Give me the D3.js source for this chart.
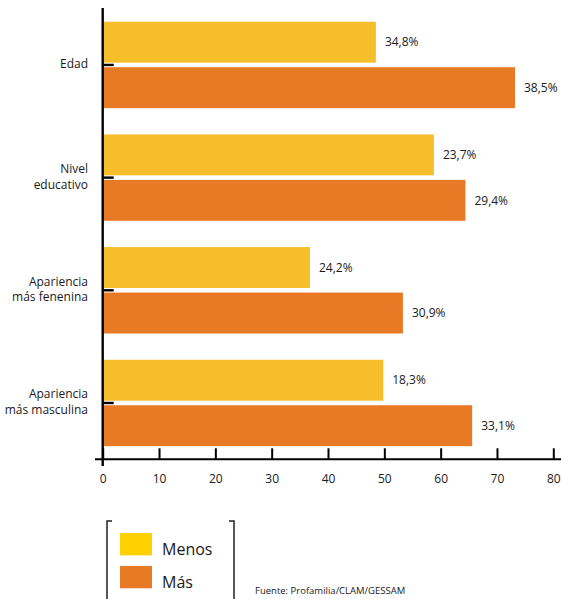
<!DOCTYPE html>
<html><head><meta charset="utf-8">
<script src="https://cdn.jsdelivr.net/npm/d3@7"></script>
<style>
html,body{margin:0;padding:0;background:#fff;}
svg{display:block;font-family:"Open Sans","Noto Sans",sans-serif;}
</style></head>
<body>
<svg id="chart" width="561" height="599"></svg>
<script>
const categories = [["Edad"], ["Nivel","educativo"], ["Apariencia","más fenenina"], ["Apariencia","más masculina"]];
const seriesNames = ["Menos", "Más"];
const menosValues = [48.5, 58.8, 36.8, 49.8];
const masValues = [73.2, 64.4, 53.3, 65.6];
const menosLabels = ["34,8%", "23,7%", "24,2%", "18,3%"];
const masLabels = ["38,5%", "29,4%", "30,9%", "33,1%"];
const xTicks = [0, 10, 20, 30, 40, 50, 60, 70, 80];
const barColors = ["#F5BE2A", "#E87A25"];
const legendColors = ["#FFD000", "#E87A25"];
const sourceText = "Fuente: Profamilia/CLAM/GESSAM";

const svg = d3.select("#chart");
const catKeys = categories.map(c => c.join(" "));
const x = d3.scaleLinear().domain([0, 80]).range([102.7, 553.3]);
const y = d3.scaleBand().domain(catKeys).range([8.6, 459.3]).padding(0);
const inner = d3.scaleBand().domain(seriesNames).range([-43.2, 43.2]).paddingInner(0.1);

const data = [];
catKeys.forEach((k, i) => {
  data.push({cat: k, s: "Menos", v: menosValues[i], label: menosLabels[i], c: barColors[0]});
  data.push({cat: k, s: "Más", v: masValues[i], label: masLabels[i], c: barColors[1]});
});
const cy = k => y(k) + y.bandwidth() / 2;

svg.append("g").selectAll("rect").data(data).join("rect")
  .attr("x", x(0))
  .attr("y", d => cy(d.cat) + inner(d.s))
  .attr("width", d => x(d.v) - x(0))
  .attr("height", inner.bandwidth())
  .attr("fill", d => d.c);

svg.append("g").selectAll("text").data(data).join("text")
  .attr("x", d => x(d.v) + 9)
  .attr("y", d => cy(d.cat) + inner(d.s) + inner.bandwidth() / 2)
  .attr("dy", "0.35em")
  .attr("font-size", 12)
  .attr("fill", "#1a1a1a")
  .text(d => d.label);

// x axis
const xAxis = d3.axisBottom(x).tickValues(xTicks).tickSizeInner(-11).tickSizeOuter(0).tickPadding(15);
const gx = svg.append("g").attr("transform", "translate(0,459.3)").call(xAxis);
gx.select(".domain").remove();
gx.selectAll(".tick line").attr("stroke", "#000").attr("stroke-width", 2);
gx.selectAll(".tick text").attr("font-size", 12).attr("fill", "#1a1a1a").attr("font-family", "'Open Sans','Noto Sans',sans-serif");
gx.append("line").attr("x1", 95).attr("x2", 561).attr("y1", 0).attr("y2", 0).attr("stroke", "#000").attr("stroke-width", 2);

// y axis
const yAxis = d3.axisLeft(y).tickSizeInner(-11).tickSizeOuter(0).tickFormat(() => "");
const gy = svg.append("g").attr("transform", `translate(${x(0)},0)`).call(yAxis);
gy.select(".domain").remove();
gy.selectAll(".tick line").attr("stroke", "#000").attr("stroke-width", 2.4);
gy.append("line").attr("x1", 0).attr("x2", 0).attr("y1", 8).attr("y2", 466).attr("stroke", "#000").attr("stroke-width", 2.4);

// category labels
const lab = svg.append("g").selectAll("text").data(categories).join("text")
  .attr("text-anchor", "end")
  .attr("font-size", 12)
  .attr("fill", "#1a1a1a");
lab.each(function(c, i) {
  const t = d3.select(this);
  const k = catKeys[i];
  const n = c.length;
  c.forEach((line, j) => {
    t.append("tspan").attr("x", 88)
      .attr("y", cy(k) - 1 + (j - (n - 1) / 2) * 15.8)
      .attr("dy", "0.35em")
      .text(line);
  });
});

// legend
const lg = svg.append("g");
lg.append("path").attr("d", "M112,521 H107 V599").attr("fill", "none").attr("stroke", "#231f20").attr("stroke-width", 1.5);
lg.append("path").attr("d", "M229,521 H234 V599").attr("fill", "none").attr("stroke", "#231f20").attr("stroke-width", 1.5);
const ly = d3.scaleBand().domain(seriesNames).range([533, 588.3]).paddingInner(0.32);
lg.selectAll("rect").data(seriesNames).join("rect")
  .attr("x", 120).attr("y", d => ly(d)).attr("width", 32).attr("height", ly.bandwidth())
  .attr("fill", (d, i) => legendColors[i]);
lg.selectAll("text").data(seriesNames).join("text")
  .attr("x", 162).attr("y", d => ly(d) + ly.bandwidth())
  .attr("font-size", 16).attr("fill", "#1a1a1a").text(d => d);

svg.append("text").attr("x", 255).attr("y", 591).attr("dy", "0.35em")
  .attr("font-size", 9.5).attr("fill", "#1a1a1a").text(sourceText);
</script>
</body></html>
